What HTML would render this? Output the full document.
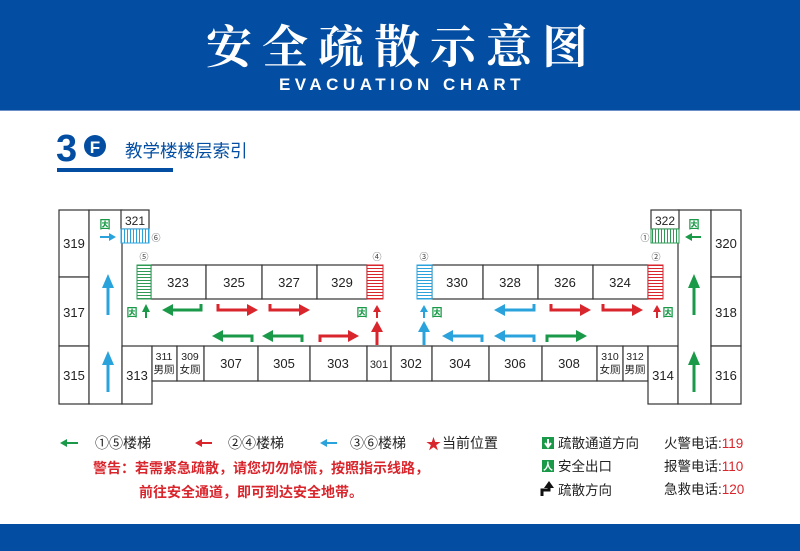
<!DOCTYPE html>
<html><head><meta charset="utf-8"><style>
body{margin:0;width:800px;height:551px;background:#fff;overflow:hidden;position:relative;font-family:"Liberation Sans","Noto Sans CJK SC",sans-serif}
</style></head><body>
<svg width="800" height="551" viewBox="0 0 800 551" xmlns="http://www.w3.org/2000/svg" style="position:absolute;left:0;top:0">
<defs>
<pattern id="hg" width="4" height="3" patternUnits="userSpaceOnUse"><rect width="4" height="3" fill="#fff"/><line x1="0" y1="1.5" x2="4" y2="1.5" stroke="#2e9a55" stroke-width="1"/></pattern>
<pattern id="hr" width="4" height="3" patternUnits="userSpaceOnUse"><rect width="4" height="3" fill="#fff"/><line x1="0" y1="1.5" x2="4" y2="1.5" stroke="#d9252c" stroke-width="1"/></pattern>
<pattern id="hb" width="4" height="3" patternUnits="userSpaceOnUse"><rect width="4" height="3" fill="#fff"/><line x1="0" y1="1.5" x2="4" y2="1.5" stroke="#2aa3dc" stroke-width="1"/></pattern>
<pattern id="vb" width="3" height="4" patternUnits="userSpaceOnUse"><rect width="3" height="4" fill="#fff"/><line x1="1.5" y1="0" x2="1.5" y2="4" stroke="#2aa3dc" stroke-width="1"/></pattern>
<pattern id="vg" width="3" height="4" patternUnits="userSpaceOnUse"><rect width="3" height="4" fill="#fff"/><line x1="1.5" y1="0" x2="1.5" y2="4" stroke="#2e9a55" stroke-width="1"/></pattern>
</defs>
<rect x="0" y="0" width="800" height="110" fill="#034ea2"/>
<rect x="0" y="110" width="800" height="1" fill="#6c8fc8"/>
<text x="402" y="63" text-anchor="middle" fill="#fff" font-family="Noto Serif CJK SC,serif" font-weight="bold" font-size="46" letter-spacing="10">安全疏散示意图</text>
<text x="402" y="90" text-anchor="middle" fill="#fff" font-size="17" font-weight="bold" letter-spacing="4.5">EVACUATION  CHART</text>
<rect x="0" y="524" width="800" height="27" fill="#034ea2"/>
<text x="56" y="161" fill="#034ea2" font-size="38" font-weight="bold">3</text>
<circle cx="95" cy="146" r="11" fill="#034ea2"/>
<text x="95" y="153" text-anchor="middle" fill="#fff" font-size="17" font-weight="bold">F</text>
<text x="125" y="157" fill="#034ea2" font-size="17.5">教学楼楼层索引</text>
<rect x="57" y="168" width="116" height="4" fill="#034ea2"/>

<g fill="#fff" stroke="#333" stroke-width="1.2">
<rect x="59" y="210" width="30" height="67"/><rect x="59" y="277" width="30" height="69"/><rect x="59" y="346" width="30" height="58"/>
<rect x="89" y="210" width="33" height="194"/>
<rect x="121" y="210" width="28" height="19"/>
<rect x="122" y="346" width="30" height="58"/>
<rect x="152" y="346" width="25" height="35"/><rect x="177" y="346" width="27" height="35"/><rect x="204" y="346" width="54" height="35"/><rect x="258" y="346" width="52" height="35"/><rect x="310" y="346" width="57" height="35"/><rect x="367" y="346" width="24" height="35"/><rect x="391" y="346" width="41" height="35"/><rect x="432" y="346" width="57" height="35"/><rect x="489" y="346" width="53" height="35"/><rect x="542" y="346" width="55" height="35"/><rect x="597" y="346" width="26" height="35"/><rect x="623" y="346" width="25" height="35"/>
<rect x="648" y="346" width="30" height="58"/>
<rect x="678" y="210" width="33" height="194"/>
<rect x="651" y="210" width="28" height="19"/>
<rect x="711" y="210" width="30" height="67"/><rect x="711" y="277" width="30" height="69"/><rect x="711" y="346" width="30" height="58"/>
<rect x="151" y="265" width="55" height="34"/><rect x="206" y="265" width="56" height="34"/><rect x="262" y="265" width="55" height="34"/><rect x="317" y="265" width="50" height="34"/>
<rect x="432" y="265" width="51" height="34"/><rect x="483" y="265" width="55" height="34"/><rect x="538" y="265" width="55" height="34"/><rect x="593" y="265" width="55" height="34"/>
</g>
<rect x="137" y="265" width="14" height="34" fill="url(#hg)" stroke="#2e9a55"/>
<rect x="367" y="265" width="16" height="34" fill="url(#hr)" stroke="#d9252c"/>
<rect x="417" y="265" width="15" height="34" fill="url(#hb)" stroke="#2aa3dc"/>
<rect x="648" y="265" width="15" height="34" fill="url(#hr)" stroke="#d9252c"/>
<rect x="121" y="229" width="28" height="14" fill="url(#vb)" stroke="#2aa3dc"/>
<rect x="651" y="229" width="28" height="14" fill="url(#vg)" stroke="#2e9a55"/>

<g font-size="13" fill="#222" text-anchor="middle">
<text x="74" y="248">319</text><text x="74" y="317">317</text><text x="74" y="380">315</text>
<text x="137" y="380">313</text><text x="135" y="225" font-size="12">321</text><text x="665" y="225" font-size="12">322</text>
<text x="178" y="287">323</text><text x="234" y="287">325</text><text x="289" y="287">327</text><text x="342" y="287">329</text>
<text x="457" y="287">330</text><text x="510" y="287">328</text><text x="565" y="287">326</text><text x="620" y="287">324</text>
<text x="231" y="368">307</text><text x="284" y="368">305</text><text x="338" y="368">303</text><text x="379" y="368" font-size="11">301</text>
<text x="411" y="368">302</text><text x="460" y="368">304</text><text x="515" y="368">306</text><text x="569" y="368">308</text>
<text x="663" y="380">314</text><text x="726" y="248">320</text><text x="726" y="317">318</text><text x="726" y="380">316</text>
<g font-size="10.5"><text x="164" y="360">311</text><text x="164" y="373">男厕</text><text x="190" y="360">309</text><text x="190" y="373">女厕</text>
<text x="610" y="360">310</text><text x="610" y="373">女厕</text><text x="635" y="360">312</text><text x="635" y="373">男厕</text></g>
<g font-size="9" fill="#444"><text x="156" y="241">⑥</text><text x="144" y="260">⑤</text><text x="377" y="260">④</text><text x="424" y="260">③</text><text x="656" y="260">②</text><text x="645" y="241">①</text></g>
</g>

<g stroke-width="3" fill="none">
<path d="M201,304V310H171" stroke="#1a9a48"/><path d="M218,304V310H249" stroke="#d9252c"/><path d="M270,304V310H301" stroke="#d9252c"/>
<path d="M252,342V336H221" stroke="#1a9a48"/><path d="M302,342V336H271" stroke="#1a9a48"/><path d="M320,342V336H350" stroke="#d9252c"/>
<path d="M377,345V330" stroke="#d9252c"/><path d="M377,318V310" stroke="#d9252c" stroke-width="2"/><path d="M146,318V310" stroke="#1a9a48" stroke-width="2"/>
<path d="M108,315V286" stroke="#2aa3dc"/><path d="M108,392V363" stroke="#2aa3dc"/><path d="M100,237H110" stroke="#2aa3dc" stroke-width="2"/>
<path d="M534,304V310H503" stroke="#2aa3dc"/><path d="M551,304V310H582" stroke="#d9252c"/><path d="M603,304V310H634" stroke="#d9252c"/>
<path d="M482,342V336H451" stroke="#2aa3dc"/><path d="M534,342V336H503" stroke="#2aa3dc"/><path d="M547,342V336H578" stroke="#1a9a48"/>
<path d="M424,345V330" stroke="#2aa3dc"/><path d="M424,318V310" stroke="#2aa3dc" stroke-width="2"/><path d="M657,318V310" stroke="#d9252c" stroke-width="2"/>
<path d="M694,315V286" stroke="#1a9a48"/><path d="M694,392V363" stroke="#1a9a48"/><path d="M691,237H701" stroke="#1a9a48" stroke-width="2"/>
</g>
<g>
<polygon points="162,310 173,304 173,316" fill="#1a9a48"/><polygon points="258,310 247,304 247,316" fill="#d9252c"/><polygon points="310,310 299,304 299,316" fill="#d9252c"/>
<polygon points="212,336 223,330 223,342" fill="#1a9a48"/><polygon points="262,336 273,330 273,342" fill="#1a9a48"/><polygon points="359,336 348,330 348,342" fill="#d9252c"/>
<polygon points="377,321 371,332 383,332" fill="#d9252c"/><polygon points="377,305 373,312 381,312" fill="#d9252c"/><polygon points="146,304 142,312 150,312" fill="#1a9a48"/>
<polygon points="108,274 102,288 114,288" fill="#2aa3dc"/><polygon points="108,351 102,365 114,365" fill="#2aa3dc"/><polygon points="116,237 109,233 109,241" fill="#2aa3dc"/>
<polygon points="494,310 505,304 505,316" fill="#2aa3dc"/><polygon points="591,310 580,304 580,316" fill="#d9252c"/><polygon points="643,310 632,304 632,316" fill="#d9252c"/>
<polygon points="442,336 453,330 453,342" fill="#2aa3dc"/><polygon points="494,336 505,330 505,342" fill="#2aa3dc"/><polygon points="587,336 576,330 576,342" fill="#1a9a48"/>
<polygon points="424,321 418,332 430,332" fill="#2aa3dc"/><polygon points="424,305 420,312 428,312" fill="#2aa3dc"/><polygon points="657,305 653,312 661,312" fill="#d9252c"/>
<polygon points="694,274 688,288 700,288" fill="#1a9a48"/><polygon points="694,351 688,365 700,365" fill="#1a9a48"/><polygon points="685,237 692,233 692,241" fill="#1a9a48"/>
</g>
<g font-size="11" font-weight="bold" fill="#1a9a48" text-anchor="middle">
<text x="105" y="228">因</text><text x="132" y="316">因</text><text x="362" y="316">因</text><text x="437" y="316">因</text><text x="668" y="316">因</text><text x="694" y="228">因</text>
</g>

<g font-size="14" fill="#222">
<path d="M62,443H78" stroke="#1a9a48" stroke-width="2"/><polygon points="60,443 67,439 67,447" fill="#1a9a48"/>
<text x="95" y="448">①⑤楼梯</text>
<path d="M197,443H212" stroke="#d9252c" stroke-width="2"/><polygon points="195,443 202,439 202,447" fill="#d9252c"/>
<text x="228" y="448">②④楼梯</text>
<path d="M322,443H337" stroke="#2aa3dc" stroke-width="2"/><polygon points="320,443 327,439 327,447" fill="#2aa3dc"/>
<text x="350" y="448">③⑥楼梯</text>
<text x="426" y="449" fill="#d9252c" font-size="15">★</text><text x="442" y="448">当前位置</text>
</g>
<g font-size="14" font-weight="bold" fill="#d9252c">
<text x="93" y="473">警告：若需紧急疏散，请您切勿惊慌，按照指示线路，</text>
<text x="139" y="497">前往安全通道，即可到达安全地带。</text>
</g>
<rect x="542" y="437" width="12" height="12" fill="#1a9a48"/><path d="M548,439V446M545,443L548,447L551,443" stroke="#fff" stroke-width="2" fill="none"/>
<rect x="542" y="460" width="12" height="12" fill="#1a9a48"/><text x="548" y="470" text-anchor="middle" font-size="10" fill="#fff" font-weight="bold">人</text>
<path d="M542,496V490H549V486" stroke="#111" stroke-width="3" fill="none"/><polygon points="549,481 544,488 554,488" fill="#111"/>
<g font-size="13.5" fill="#222">
<text x="558" y="448">疏散通道方向</text><text x="558" y="471">安全出口</text><text x="558" y="495">疏散方向</text>
<text x="664" y="448">火警电话:<tspan fill="#d9252c">119</tspan></text>
<text x="664" y="471">报警电话:<tspan fill="#d9252c">110</tspan></text>
<text x="664" y="494">急救电话:<tspan fill="#d9252c">120</tspan></text>
</g>
</svg>
</body></html>
